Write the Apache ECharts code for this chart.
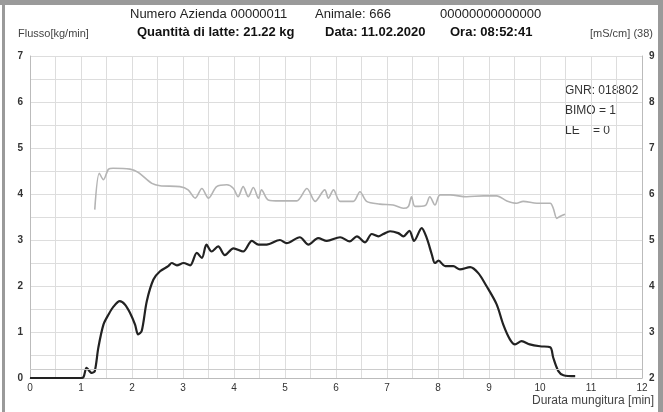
<!DOCTYPE html>
<html>
<head>
<meta charset="utf-8">
<script src="https://cdn.jsdelivr.net/npm/echarts@6/dist/echarts.min.js"></script>
<style>
html,body{margin:0;padding:0;background:#fff;}
#c{width:663px;height:412px;}
</style>
</head>
<body>
<div id="c"></div>
<script>
// ---- data ----
var flowTime = [0,1.0,1.05,1.11,1.21,1.27,1.34,1.44,1.54,1.63,1.76,1.86,1.96,2.06,2.12,2.19,2.29,2.42,2.55,2.71,2.78,2.88,3.01,3.14,3.27,3.37,3.46,3.56,3.69,3.82,3.99,4.18,4.35,4.48,4.64,4.9,5.03,5.29,5.46,5.65,5.82,6.08,6.27,6.41,6.57,6.7,6.83,6.93,7.06,7.22,7.32,7.44,7.53,7.68,7.78,7.88,7.94,8.01,8.14,8.3,8.43,8.63,8.79,8.95,9.15,9.28,9.41,9.51,9.64,9.8,10.0,10.2,10.26,10.36,10.46,10.69];
var flowValue = [0,0,0.02,0.22,0.11,0.15,0.66,1.16,1.38,1.54,1.67,1.6,1.42,1.16,0.95,1.02,1.67,2.14,2.32,2.43,2.5,2.45,2.5,2.45,2.72,2.61,2.9,2.75,2.86,2.67,2.82,2.75,2.98,2.9,2.9,3.0,2.93,3.06,2.9,3.04,2.98,3.06,2.97,3.08,2.95,3.13,3.08,3.13,3.19,3.15,3.08,3.2,2.98,3.26,3.04,2.68,2.5,2.55,2.43,2.43,2.36,2.41,2.28,2.0,1.6,1.16,0.84,0.73,0.8,0.73,0.69,0.67,0.44,0.15,0.06,0.04];
var condTime = [1.27,1.36,1.44,1.54,1.63,1.96,2.12,2.39,2.55,2.94,3.1,3.24,3.37,3.5,3.66,3.86,3.99,4.08,4.18,4.28,4.38,4.48,4.54,4.67,4.9,5.23,5.43,5.59,5.78,5.85,5.95,6.08,6.34,6.47,6.6,6.86,7.12,7.32,7.42,7.48,7.55,7.75,7.84,7.94,8.04,8.24,8.56,8.89,9.15,9.35,9.54,9.67,9.94,10.2,10.26,10.33,10.39,10.49];
var condValue = [5.66,6.45,6.31,6.54,6.56,6.54,6.47,6.23,6.18,6.16,6.09,5.91,6.12,5.91,6.16,6.2,6.12,5.94,6.16,5.94,6.14,5.91,6.09,5.87,5.85,5.85,6.12,5.84,6.09,5.91,6.09,5.84,5.84,6.05,5.84,5.78,5.76,5.69,5.73,5.94,5.73,5.75,5.94,5.76,5.98,5.98,5.94,5.96,5.96,5.85,5.8,5.84,5.8,5.8,5.69,5.47,5.51,5.56];
var xTicks = [0,1,2,3,4,5,6,7,8,9,10,11,12];
var leftTicks = [0,1,2,3,4,5,6,7];
var rightTicks = [2,3,4,5,6,7,8,9];

var headerLine1 = [["Numero Azienda 00000011",130],["Animale: 666",315],["00000000000000",440]];
var headerLine2 = [["Quantità di latte: 21.22 kg",137],["Data: 11.02.2020",325],["Ora: 08:52:41",450]];
var infoLines = ["GNR: 018802","BIMO = 1","LE    = 0"];

var flowData = flowTime.map(function(t,i){return [t, flowValue[i]];});
var condData = condTime.map(function(t,i){return [t, condValue[i]];});

var FONT = 'Liberation Sans, Arial, sans-serif';
var gridColor = '#dddddd';

var graphics = [
  {type:'rect', shape:{x:0,y:0,width:663,height:5}, style:{fill:'#9a9a9a'}, silent:true},
  {type:'rect', shape:{x:2,y:0,width:3,height:412}, style:{fill:'#9a9a9a'}, silent:true},
  {type:'rect', shape:{x:658,y:0,width:5,height:412}, style:{fill:'#9a9a9a'}, silent:true},
  {type:'text', left:18, top:28, style:{text:'Flusso[kg/min]', font:'11px '+FONT, fill:'#444'}},
  {type:'text', left:590, top:28, style:{text:'[mS/cm] (38)', font:'11px '+FONT, fill:'#444'}},
  {type:'text', left:532, top:395, style:{text:'Durata mungitura [min]', font:'12px '+FONT, fill:'#444'}}
];
headerLine1.forEach(function(h){
  graphics.push({type:'text', left:h[1], top:8, style:{text:h[0], font:'13px '+FONT, fill:'#222'}});
});
headerLine2.forEach(function(h){
  graphics.push({type:'text', left:h[1], top:26, style:{text:h[0], font:'bold 13px '+FONT, fill:'#111'}});
});
infoLines.forEach(function(s,i){
  graphics.push({type:'text', left:565, top:85+i*20, style:{text:s, font:'12px '+FONT, fill:'#333'}});
});

var chart = echarts.init(document.getElementById('c'), null, {renderer:'canvas'});
chart.setOption({
  animation:false,
  backgroundColor:'#fff',
  grid:{left:30, right:21, top:56, bottom:34, containLabel:false},
  xAxis:{
    type:'value', min:xTicks[0], max:xTicks[xTicks.length-1], interval:1,
    axisLine:{show:true, lineStyle:{color:'#bbb'}},
    axisTick:{show:false},
    axisLabel:{color:'#333', fontSize:10, fontFamily:FONT, margin:5, showMinLabel:true, showMaxLabel:true},
    splitLine:{show:true, lineStyle:{color:gridColor, width:1}},
    minorTick:{show:false, splitNumber:2},
    minorSplitLine:{show:true, lineStyle:{color:gridColor, width:1}}
  },
  yAxis:[{
    type:'value', min:leftTicks[0], max:leftTicks[leftTicks.length-1], interval:1, position:'left',
    axisLine:{show:true, lineStyle:{color:'#bbb'}},
    axisTick:{show:false},
    axisLabel:{color:'#333', fontSize:10, fontWeight:'bold', fontFamily:FONT, margin:7},
    splitLine:{show:true, lineStyle:{color:gridColor, width:1}},
    minorTick:{show:false, splitNumber:2},
    minorSplitLine:{show:true, lineStyle:{color:gridColor, width:1}}
  },{
    type:'value', min:rightTicks[0], max:rightTicks[rightTicks.length-1], interval:1, position:'right',
    axisLine:{show:true, lineStyle:{color:'#bbb'}},
    axisTick:{show:false},
    axisLabel:{color:'#333', fontSize:10, fontWeight:'bold', fontFamily:FONT, margin:7},
    splitLine:{show:false}
  }],
  series:[{
    type:'line', data:condData, yAxisIndex:1, symbol:'none', smooth:0.3,
    lineStyle:{color:'#b4b4b4', width:1.6}, z:2
  },{
    type:'line', data:flowData, yAxisIndex:0, symbol:'none', smooth:0.3,
    lineStyle:{color:'#222', width:2.2}, z:3,
    markLine:{silent:true, symbol:'none', label:{show:false},
      lineStyle:{color:'#cccccc', type:'solid', width:1}, data:[{yAxis:0.2}]}
  }],
  graphic:graphics
});
</script>
</body>
</html>
